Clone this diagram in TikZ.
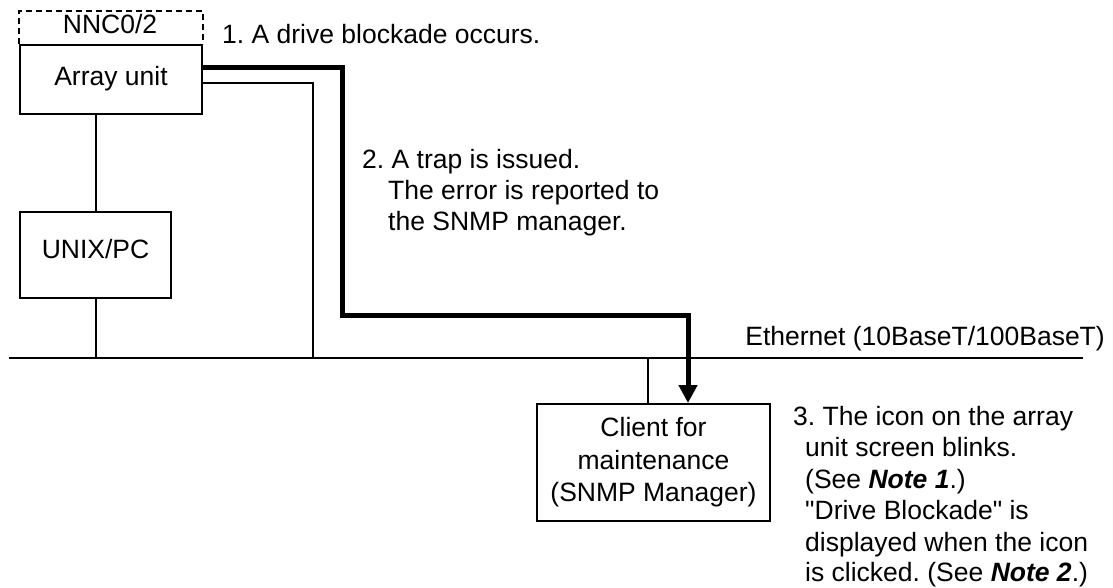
\documentclass[tikz,border=0pt]{standalone}
\usepackage{fontspec}
\setmainfont{Liberation Sans}[Ligatures=TeXOff]
\frenchspacing
\usetikzlibrary{arrows.meta,calc}
\begin{document}
\begin{tikzpicture}[x=1pt,y=-1pt,
  txt/.style={font=\fontsize{26.5}{32.5}\selectfont,inner sep=0pt},
  box/.style={draw,line width=2pt,rectangle,inner sep=0pt},
  thinline/.style={line width=2pt},
  dashline/.style={line width=2pt,dash pattern=on 6pt off 4pt},
  thickarrow/.style={line width=5pt,-{Triangle[width=18pt,length=18pt]}}]
\useasboundingbox (0,0) rectangle (1113,587);
% boxes
\node[box,txt,minimum width=182pt,minimum height=69pt,text height=19pt,text depth=8pt] (array) at (111,79.5) {Array unit};
\node[box,txt,minimum width=151pt,minimum height=86pt,text height=19pt,text depth=12pt] (unix) at (95.5,255) {UNIX/PC};
\node[box,txt,minimum width=233pt,minimum height=117pt,align=center] (client) at (653.5,462.5) {Client for\\maintenance\\(SNMP Manager)};
% NNC label with dashed frame
\node[txt,anchor=base] (nnc) at (110,33) {NNC0/2};
\draw[dashline] (array.north west) |- ([yshift=33pt]array.north east) -- (array.north east);
% ethernet
\coordinate (ethl) at (9,358);
\coordinate (ethr) at (1083,358);
\draw[thinline] (ethl) -- (ethr);
\node[txt,anchor=base east] (ethtext) at (1105,345) {Ethernet (10BaseT/100BaseT)};
% connections
\draw[thinline] (unix.north |- array.south) -- (unix.north);
\draw[thinline] (unix.south) -- (unix.south |- ethl);
\coordinate (tap) at (648,358);
\draw[thinline] (tap) -- (tap |- client.north);
\coordinate (a2) at ($(array.north east)+(0,39)$);
\coordinate (thinend) at (313,358);
\draw[thinline] (a2) -| (thinend);
\coordinate (a1) at ($(array.north east)+(0,23)$);
\coordinate (bend) at (342,315);
\coordinate (drop) at (688,403);
\draw[thickarrow] (a1) -| (bend) -| (drop);
% step texts
\node[txt,anchor=base west] (s1) at (222,43) {1. A drive blockade occurs.};
\node[txt,anchor=base west] (s2a) at (362,168) {2. A trap is issued.};
\node[txt,anchor=base west] (s2b) at (388,199) {The error is reported to};
\node[txt,anchor=base west] (s2c) at (388,230) {the SNMP manager.};
\node[txt,anchor=base west] (s3a) at (793,425) {3. The icon on the array};
\node[txt,anchor=base west] (s3b) at (805,456.5) {unit screen blinks.};
\node[txt,anchor=base west] (s3c) at (805,488) {(See \textbf{\textit{Note 1}}.)};
\node[txt,anchor=base west] (s3d) at (805,519.5) {"Drive Blockade" is};
\node[txt,anchor=base west] (s3e) at (805,551) {displayed when the icon};
\node[txt,anchor=base west] (s3f) at (805,581.5) {is clicked. (See \textbf{\textit{Note 2}}.)};
\end{tikzpicture}
\end{document}
